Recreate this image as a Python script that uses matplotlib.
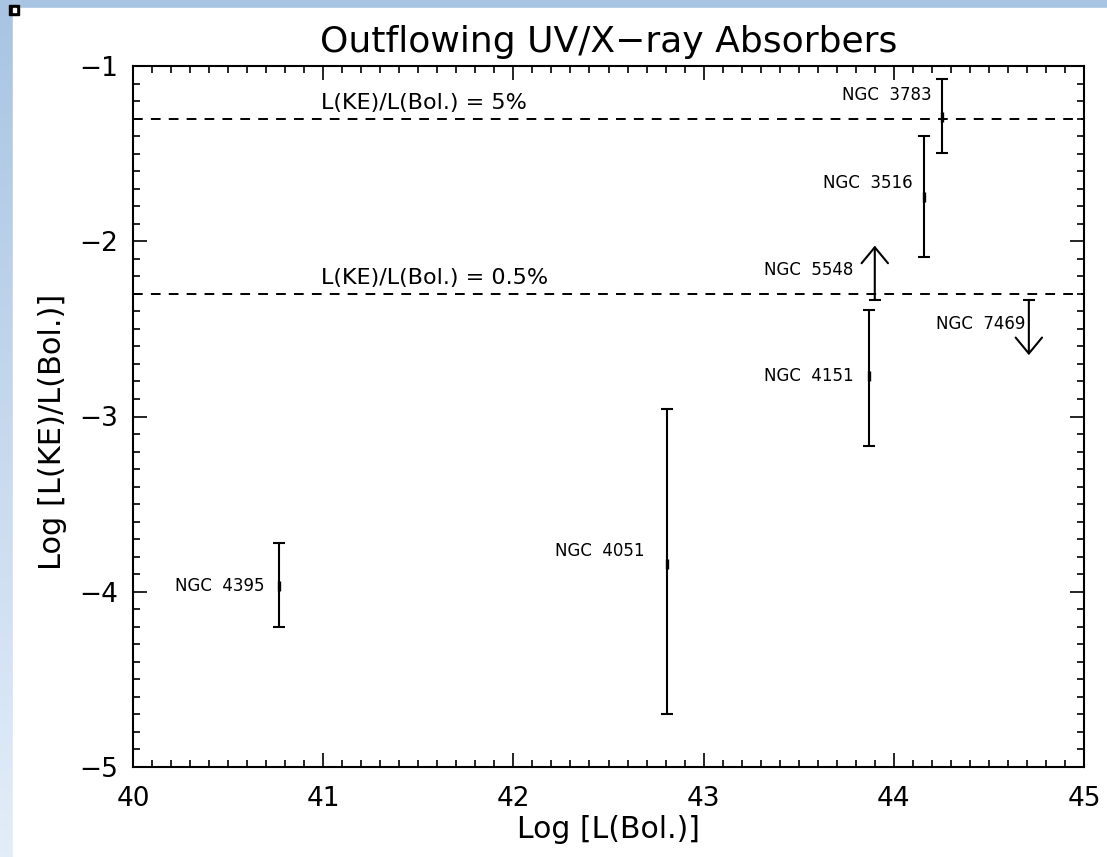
import numpy as np
import matplotlib.pyplot as plt
from matplotlib.patches import Rectangle

# objects with a measured range: log L(bol), low / high and middle of log L(KE)/L(bol)
names = ['NGC  4395', 'NGC  4051', 'NGC  4151', 'NGC  3516', 'NGC  3783']
log_lbol = [40.77, 42.81, 43.87, 44.16, 44.255]
ratio_lo = [-4.20, -4.70, -3.17, -2.09, -1.495]
ratio_hi = [-3.72, -2.96, -2.39, -1.40, -1.075]
ratio_mid = [-3.97, -3.84, -2.77, -1.75, -1.29]

# objects with only a limit
lim_names = ['NGC  5548', 'NGC  7469']
lim_lbol = [43.90, 44.71]
lim_value = [-2.335, -2.335]
lim_upper = [False, True]

# constant kinetic / bolometric fractions
fractions = [0.05, 0.005]
fraction_labels = ['L(KE)/L(Bol.) = 5%', 'L(KE)/L(Bol.) = 0.5%']

# where the object names are written (right edge, middle)
name_pos = [(40.69, -3.97), (42.69, -3.77), (43.79, -2.77), (44.10, -1.67),
            (44.20, -1.165)]
lim_name_pos = [(43.79, -2.165), (44.69, -2.47)]

plt.rcParams['font.family'] = ['DejaVu Sans']

W, H = 1107, 857
fig = plt.figure(figsize=(W / 100, H / 100), dpi=100)

# page background: blue fade on the left and top edges
bg = fig.add_axes([0, 0, 1, 1], zorder=-10)
bg.axis('off')
t = np.linspace(0, 1, 256)[:, None]
top_c = np.array([0.66, 0.77, 0.89])
bot_c = np.array([0.89, 0.93, 0.97])
grad = (top_c * (1 - t) + bot_c * t)[:, None, :]
grad = np.repeat(grad, 2, axis=1)
bg.imshow(grad, aspect='auto', extent=[0, 1, 0, 1])
bg.set_xlim(0, 1)
bg.set_ylim(0, 1)
bg.add_patch(Rectangle((13 / W, 0), 1, 1 - 8 / H, color='white'))
bg.add_patch(Rectangle((9 / W, 1 - 15 / H), 10 / W, 10 / H, color='black'))
bg.add_patch(Rectangle((12.5 / W, 1 - 11.5 / H), 3 / W, 3 / H, color='white'))

ax = fig.add_axes([133 / W, 1 - 767 / H, 951 / W, 701 / H])
ax.set_xlim(40, 45)
ax.set_ylim(-5, -1)

for f, lab in zip(fractions, fraction_labels):
    y = np.log10(f)
    ax.axhline(y, color='black', lw=1.4, dashes=(5, 4.2))
    ax.text(40.99, y + 0.09, lab, fontsize=16, ha='left', va='center')

# measured ranges
yerr = [np.subtract(ratio_mid, ratio_lo), np.subtract(ratio_hi, ratio_mid)]
ax.errorbar(log_lbol, ratio_mid, yerr=yerr, fmt='none', ecolor='black',
            elinewidth=1.5, capsize=4, capthick=1.5)
ax.plot(log_lbol, ratio_mid, ls='none', marker='|', ms=7, mew=2.4, color='black')
for n, (tx, ty) in zip(names, name_pos):
    ax.text(tx, ty, n, fontsize=12, ha='right', va='center')

# limits drawn as open arrows
for n, x, v, up, (tx, ty) in zip(lim_names, lim_lbol, lim_value, lim_upper,
                                  lim_name_pos):
    tip = v - 0.315 if up else v + 0.31
    ax.annotate('', xy=(x, tip), xytext=(x, v),
                arrowprops=dict(arrowstyle='->,head_length=1.15,head_width=0.95',
                                lw=1.5, color='black', shrinkA=0, shrinkB=0,
                                mutation_scale=10))
    ax.plot([x], [v], marker='_', ms=8, mew=1.5, color='black')
    ax.text(tx, ty, n, fontsize=12, ha='right', va='center')

ax.set_xticks(np.arange(40, 45.5, 1))
ax.set_yticks(np.arange(-5, -0.5, 1))
ax.set_xticks(np.arange(40, 45.01, 0.1), minor=True)
ax.set_yticks(np.arange(-5, -0.99, 0.1), minor=True)
ax.tick_params(which='both', direction='in', top=True, right=True, width=1.2)
ax.tick_params(which='major', length=10, labelsize=19)
ax.tick_params(which='minor', length=5)
ax.tick_params(axis='x', pad=14)
ax.tick_params(axis='y', pad=11)
for s in ax.spines.values():
    s.set_linewidth(1.5)

ax.set_xlabel('Log [L(Bol.)]', fontsize=21.5, labelpad=2)
ax.set_ylabel('Log [L(KE)/L(Bol.)]', fontsize=22)
ax.yaxis.set_label_coords(-0.069, 0.478)
ax.set_title('Outflowing UV/X\u2212ray Absorbers', fontsize=26, pad=10)

fig.savefig('out.png', dpi=100)
